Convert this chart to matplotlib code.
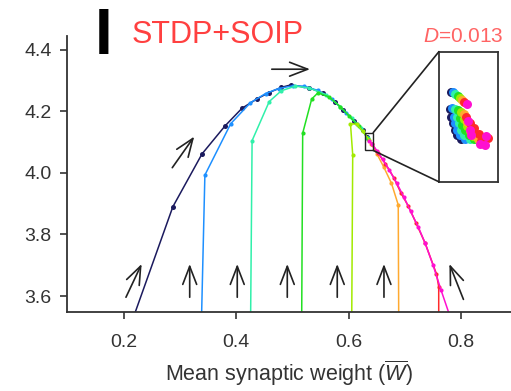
import matplotlib
matplotlib.use('Agg')
import matplotlib.pyplot as plt
from matplotlib.patches import Rectangle, ConnectionPatch

plt.rcParams['font.family'] = ['Liberation Sans', 'DejaVu Sans']
plt.rcParams['mathtext.fontset'] = 'custom'
plt.rcParams['mathtext.it'] = 'Liberation Sans:italic'
plt.rcParams['mathtext.rm'] = 'Liberation Sans'

# trajectories (mean weight W, y value); first point is below the axis
w_navy = [0.205, 0.287, 0.339, 0.380, 0.410, 0.437, 0.458, 0.480, 0.497, 0.530, 0.555, 0.575, 0.590, 0.610, 0.625, 0.632]
v_navy = [3.47, 3.890, 4.062, 4.153, 4.210, 4.241, 4.261, 4.278, 4.286, 4.276, 4.259, 4.232, 4.205, 4.170, 4.140, 4.118]

w_blue = [0.337, 0.344, 0.390, 0.425, 0.452, 0.475, 0.500, 0.520, 0.545, 0.570, 0.595, 0.615, 0.633]
v_blue = [3.45, 3.993, 4.160, 4.228, 4.258, 4.274, 4.283, 4.282, 4.268, 4.240, 4.196, 4.160, 4.115]

w_cyan = [0.425, 0.428, 0.4585, 0.480, 0.505, 0.530, 0.560, 0.585, 0.605, 0.622, 0.634]
v_cyan = [3.45, 4.105, 4.232, 4.267, 4.282, 4.276, 4.254, 4.215, 4.178, 4.145, 4.112]

w_green = [0.516, 0.518, 0.534, 0.545, 0.565, 0.585, 0.600, 0.618, 0.635]
v_green = [3.45, 4.129, 4.240, 4.260, 4.247, 4.215, 4.186, 4.152, 4.110]

w_lime = [0.605, 0.607, 0.603, 0.614, 0.625, 0.636]
v_lime = [3.45, 4.059, 4.160, 4.158, 4.135, 4.108]

w_orange = [0.689, 0.688, 0.676, 0.662, 0.650, 0.640]
v_orange = [3.45, 3.896, 3.966, 4.020, 4.062, 4.095]

w_red = [0.760, 0.760, 0.756, 0.736, 0.720, 0.706, 0.693, 0.680, 0.665, 0.652, 0.641]
v_red = [3.45, 3.630, 3.672, 3.771, 3.836, 3.892, 3.934, 3.985, 4.030, 4.065, 4.095]

w_magenta = [0.792, 0.764, 0.750, 0.736, 0.724, 0.710, 0.698, 0.685, 0.672, 0.660, 0.650, 0.641, 0.636]
v_magenta = [3.47, 3.620, 3.700, 3.771, 3.823, 3.875, 3.922, 3.968, 4.010, 4.045, 4.072, 4.095, 4.105]

traj_w = [w_navy, w_blue, w_cyan, w_green, w_lime, w_orange, w_red, w_magenta]
traj_v = [v_navy, v_blue, v_cyan, v_green, v_lime, v_orange, v_red, v_magenta]
colors = ['#1b1a5e', '#1e90ff', '#30f0aa', '#22e022', '#a2ea00', '#ffaa30', '#ff2a2a', '#ff10d0']

# magnified end points in the inset (fractions of the inset box)
inset_x = [
    [0.20, 0.18, 0.20, 0.24, 0.27, 0.31, 0.38],
    [0.24, 0.22, 0.25, 0.28, 0.31, 0.36, 0.44],
    [0.28, 0.27, 0.30, 0.34, 0.37, 0.43, 0.52],
    [0.32, 0.32, 0.36, 0.40, 0.44, 0.51, 0.60],
    [0.36, 0.37, 0.42, 0.47, 0.52, 0.58, 0.68],
    [0.40, 0.42, 0.48, 0.54, 0.60, 0.66, 0.76],
    [0.43, 0.46, 0.53, 0.60, 0.68, 0.72, 0.84],
    [0.47, 0.50, 0.52, 0.55, 0.70, 0.80, 0.78],
]
inset_y = [
    [0.690, 0.56, 0.50, 0.45, 0.40, 0.36, 0.33],
    [0.690, 0.57, 0.50, 0.45, 0.40, 0.36, 0.33],
    [0.675, 0.56, 0.50, 0.45, 0.40, 0.36, 0.33],
    [0.660, 0.55, 0.49, 0.44, 0.40, 0.36, 0.33],
    [0.645, 0.54, 0.48, 0.43, 0.39, 0.35, 0.33],
    [0.625, 0.52, 0.46, 0.42, 0.38, 0.33, 0.33],
    [0.610, 0.50, 0.45, 0.41, 0.37, 0.31, 0.34],
    [0.595, 0.47, 0.40, 0.36, 0.29, 0.35, 0.28],
]

arrow_tail = [(0.463, 4.337), (0.286, 4.017), (0.2036, 3.596), (0.317, 3.596), (0.4016, 3.596),
              (0.4906, 3.596), (0.5795, 3.596), (0.6626, 3.596), (0.804, 3.589)]
arrow_head = [(0.531, 4.337), (0.325, 4.118), (0.2315, 3.704), (0.317, 3.704), (0.4016, 3.704),
              (0.4906, 3.704), (0.5795, 3.704), (0.6626, 3.704), (0.779, 3.704)]

xticks = [0.2, 0.4, 0.6, 0.8]
yticks = [3.6, 3.8, 4.0, 4.2, 4.4]

fig = plt.figure(figsize=(5.11, 3.91), dpi=100)
ax = fig.add_axes([0.131, 0.202, 0.869, 0.706])

for i in range(len(traj_w)):
    ms = 3.6 if i == 0 else 3.0
    ax.plot(traj_w[i], traj_v[i], '-o', color=colors[i], lw=1.1, ms=ms, mew=0)

for t, h in zip(arrow_tail, arrow_head):
    ax.annotate('', xy=h, xytext=t,
                arrowprops=dict(arrowstyle='->,head_length=1.3,head_width=0.5',
                                lw=1.2, color='#222222', shrinkA=0, shrinkB=0))

ax.add_patch(Rectangle((0.629, 4.073), 0.0145, 0.058, fill=False, ec='#222222', lw=1.0, zorder=5))

ax.set_xlim(0.0986, 0.8886)
ax.set_ylim(3.548, 4.445)
ax.set_xticks(xticks)
ax.set_xticklabels([f'{x:.1f}' for x in xticks])
ax.set_yticks(yticks)
ax.set_yticklabels([f'{y:.1f}' for y in yticks])
for s in ['top', 'right']:
    ax.spines[s].set_visible(False)
for s in ['left', 'bottom']:
    ax.spines[s].set_color('#333333')
    ax.spines[s].set_linewidth(1.3)
ax.tick_params(axis='both', direction='out', length=5, width=1.2, color='#333333',
               labelsize=14, labelcolor='#333333')
ax.tick_params(axis='x', pad=11)
ax.tick_params(axis='y', pad=6)
ax.set_xlabel(r'Mean synaptic weight ($\overline{W}$)', fontsize=15.5, color='#333333', labelpad=5)

# inset
axi = fig.add_axes([0.859, 0.535, 0.115, 0.333])
for i in range(len(inset_x)):
    axi.scatter(inset_x[i], inset_y[i], s=42, color=colors[i], linewidths=0)
axi.set_xlim(0, 1)
axi.set_ylim(0, 1)
axi.set_xticks([])
axi.set_yticks([])
for s in axi.spines.values():
    s.set_color('#333333')
    s.set_linewidth(1.3)

for src, dst in [((0.6435, 4.131), (0, 1)), ((0.6435, 4.073), (0, 0))]:
    con = ConnectionPatch(xyA=src, coordsA=ax.transData, xyB=dst, coordsB=axi.transAxes,
                          color='#222222', lw=1.2)
    fig.add_artist(con)

fig.text(131.7 / 511, 1 - 43.3 / 391, 'STDP+SOIP', fontsize=22, color='#ff4040', va='baseline')
fig.text(103.3 / 511, 1 - 54 / 391, 'I', fontsize=46, fontweight='bold', color='black',
         ha='center', va='baseline')
fig.text(503.3 / 511, 1 - 41.7 / 391, r'$D$=0.013', fontsize=15, color='#ff6464',
         ha='right', va='baseline')

fig.savefig('out.png', dpi=100)
